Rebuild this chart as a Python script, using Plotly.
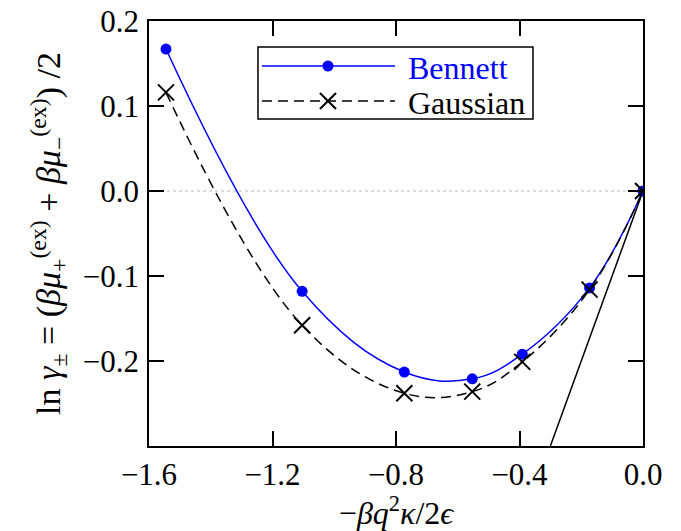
import plotly.graph_objects as go

# Data
x_vals = [-1.545, -1.104, -0.773, -0.553, -0.391, -0.173, 0.0]
bennett = [0.167, -0.118, -0.213, -0.221, -0.192, -0.114, 0.0]
gaussian = [0.116, -0.158, -0.238, -0.236, -0.201, -0.116, 0.0]
limit_x = [-0.3, 0.0]
limit_y = [-0.3, 0.0]

x_ticks = [-1.6, -1.2, -0.8, -0.4, 0.0]
x_ticktext = ["\u22121.6", "\u22121.2", "\u22120.8", "\u22120.4", "0.0"]
y_ticks = [-0.2, -0.1, 0.0, 0.1, 0.2]
y_ticktext = ["\u22120.2", "\u22120.1", "0.0", "0.1", "0.2"]
legend_labels = ["Bennett", "Gaussian"]

FONT = "Liberation Serif"
BLUE = "#0000ff"

fig = go.Figure()

fig.add_trace(go.Scatter(
    x=limit_x, y=limit_y, mode="lines",
    line=dict(color="black", width=1.5), showlegend=False, hoverinfo="skip"))

fig.add_trace(go.Scatter(
    x=x_vals, y=bennett, mode="lines+markers", name=legend_labels[0],
    line=dict(color=BLUE, width=1.5, shape="spline", smoothing=1.1),
    marker=dict(symbol="circle", size=11, color=BLUE)))

fig.add_trace(go.Scatter(
    x=x_vals, y=gaussian, mode="lines+markers", name=legend_labels[1],
    line=dict(color="black", width=1.5, dash="10px,6px", shape="spline", smoothing=1.1),
    marker=dict(symbol="x-thin", size=16, color="black",
                line=dict(color="black", width=2))))

fig.add_shape(type="line", xref="paper", x0=0, x1=1, yref="y", y0=0, y1=0,
              line=dict(color="#b8b8b8", width=1, dash="dot"), layer="below")

# ---- hand-made legend box (paper coordinates) ----
lx0, lx1, ly0, ly1 = 0.2206, 0.7773, 0.7694, 0.9388
rows = [0.8941, 0.8118]
sx0, sx1, sm = 0.2287, 0.498, 0.3623
tx = 0.5202
fig.add_shape(type="rect", xref="paper", yref="paper", x0=lx0, x1=lx1, y0=ly0, y1=ly1,
              line=dict(color="black", width=1.5), fillcolor="white", layer="above")
# Bennett sample
fig.add_shape(type="line", xref="paper", yref="paper", x0=sx0, x1=sx1, y0=rows[0], y1=rows[0],
              line=dict(color=BLUE, width=1.5), layer="above")
fig.add_shape(type="circle", xref="paper", yref="paper",
              xsizemode="pixel", ysizemode="pixel", xanchor=sm, yanchor=rows[0],
              x0=-5.5, x1=5.5, y0=-5.5, y1=5.5,
              line=dict(color=BLUE, width=0), fillcolor=BLUE, layer="above")
# Gaussian sample
fig.add_shape(type="line", xref="paper", yref="paper", x0=sx0, x1=sx1, y0=rows[1], y1=rows[1],
              line=dict(color="black", width=1.5, dash="10px,6px"), layer="above")
for dy in (1, -1):
    fig.add_shape(type="line", xref="paper", yref="paper",
                  xsizemode="pixel", ysizemode="pixel", xanchor=sm, yanchor=rows[1],
                  x0=-8, x1=8, y0=-8 * dy, y1=8 * dy,
                  line=dict(color="black", width=2), layer="above")
for lab, ry, col in zip(legend_labels, rows, [BLUE, "black"]):
    fig.add_annotation(text=lab, xref="paper", yref="paper", x=tx, y=ry,
                       xanchor="left", yanchor="middle", showarrow=False,
                       font=dict(family=FONT, size=32, color=col), yshift=-2)

fig.update_layout(
    width=681, height=531,
    margin=dict(l=149, r=38, t=21, b=85),
    paper_bgcolor="white", plot_bgcolor="white",
    font=dict(family=FONT, size=31, color="black"),
    showlegend=False,
    xaxis=dict(
        range=[-1.6, 0.0], tickvals=x_ticks, ticktext=x_ticktext,
        ticks="inside", ticklen=15, tickwidth=1.5, tickcolor="black",
        showline=True, linecolor="black", linewidth=1.5, mirror="ticks",
        showgrid=False, zeroline=False, automargin=False,
        tickfont=dict(family=FONT, size=31),
        title=dict(text="\u2212<i>\u03b2q</i><sup>2</sup><i>\u03ba</i>/2<i>\u03f5</i>",
                   font=dict(family=FONT, size=32), standoff=8),
    ),
    yaxis=dict(
        range=[-0.3, 0.2], tickvals=y_ticks, ticktext=y_ticktext,
        ticks="inside", ticklen=15, tickwidth=1.5, tickcolor="black",
        showline=True, linecolor="black", linewidth=1.5, mirror="ticks",
        showgrid=False, zeroline=False, automargin=False,
        tickfont=dict(family=FONT, size=31),
        ticklabelstandoff=2,
        title=dict(text="ln <i>\u03b3</i><sub>\u00b1</sub> = (<i>\u03b2\u03bc</i><sub>+</sub><sup>(ex)</sup> + <i>\u03b2\u03bc</i><sub>\u2212</sub><sup>(ex)</sup>) /2",
                   font=dict(family=FONT, size=34), standoff=12),
    ),
)

fig.write_html("out.html")
